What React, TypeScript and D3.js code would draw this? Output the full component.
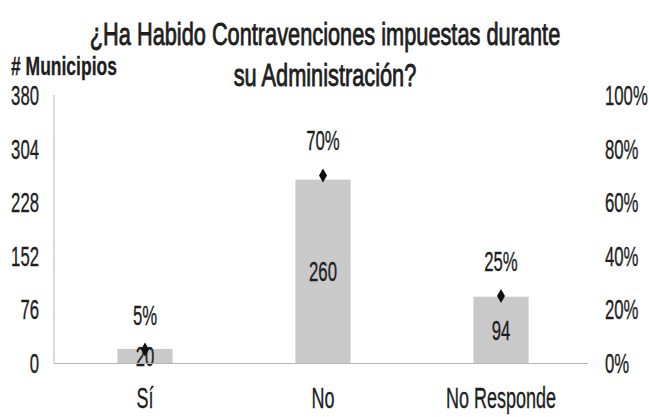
import React from "react";
import * as d3 from "d3";

const categories = ["Sí", "No", "No Responde"];
const counts = [20, 260, 94];
const percents = [5, 70, 25];
const leftTicks = [0, 76, 152, 228, 304, 380];
const rightTicks = [0, 20, 40, 60, 80, 100];
const titleLines = ["¿Ha Habido Contravenciones impuestas durante", "su Administración?"];
const yAxisTitle = "# Municipios";

const W = 649;
const H = 417;
const FONT = "'Liberation Sans', Arial, sans-serif";
const TXT = "#1e1e1e";

function T(props: {
  x: number;
  y: number;
  s: number;
  sx: number;
  anchor?: string;
  bold?: boolean;
  sw?: number;
  children: React.ReactNode;
}) {
  return (
    <text
      transform={`translate(${props.x},${props.y}) scale(${props.sx},1)`}
      textAnchor={props.anchor || "start"}
      fontSize={props.s}
      fontFamily={FONT}
      fontWeight={props.bold ? "bold" : "normal"}
      fill={TXT}
      stroke={TXT}
      strokeWidth={props.sw ?? 0.35}
    >
      {props.children}
    </text>
  );
}

export default function App() {
  const y = d3.scaleLinear().domain([0, 380]).range([363, 95]);
  const yp = d3.scaleLinear().domain([0, 100]).range([363, 95]);
  const x = d3
    .scaleBand<string>()
    .domain(categories)
    .range([56, 590])
    .paddingInner(0.69)
    .paddingOuter(0.345);
  const bw = x.bandwidth();
  const diamond = (cx: number, cy: number) =>
    `M${cx},${cy - 7} L${cx + 4},${cy} L${cx},${cy + 7} L${cx - 4},${cy} Z`;

  return (
    <svg width={W} height={H} style={{ position: "absolute", left: 0, top: 0, background: "#fff" }}>
      <rect width={W} height={H} fill="#fff" />
      <T x={325} y={45} s={32} sx={0.68} anchor="middle" sw={0.9}>
        {titleLines[0]}
      </T>
      <T x={325} y={86} s={32} sx={0.68} anchor="middle" sw={0.9}>
        {titleLines[1]}
      </T>
      <T x={11} y={75} s={25} sx={0.7} bold sw={0.3}>
        {yAxisTitle}
      </T>

      {leftTicks.map((t) => (
        <T key={"l" + t} x={39} y={y(t) + 10} s={27} sx={0.62} anchor="end">
          {String(t)}
        </T>
      ))}
      {rightTicks.map((t) => (
        <T key={"r" + t} x={605} y={yp(t) + 10} s={27} sx={0.62}>
          {t + "%"}
        </T>
      ))}

      {categories.map((c, i) => {
        const bx = x(c)!;
        const cx = bx + bw / 2;
        const top = y(counts[i]);
        const py = yp(percents[i]);
        return (
          <g key={c}>
            <rect x={bx} y={top} width={bw} height={y(0) - top} fill="#cacaca" />
            <T x={cx} y={(top + y(0)) / 2 + 10} s={27} sx={0.62} anchor="middle">
              {String(counts[i])}
            </T>
            <path d={diamond(cx, py)} fill="#111" />
            <T x={cx} y={py - 25} s={27} sx={0.62} anchor="middle">
              {percents[i] + "%"}
            </T>
            <T x={cx} y={408} s={30} sx={0.6} anchor="middle">
              {c}
            </T>
          </g>
        );
      })}

      <line x1={54} x2={54} y1={95} y2={363} stroke="#b5b5b5" strokeWidth={1} />
      <line x1={54} x2={588} y1={363.5} y2={363.5} stroke="#b5b5b5" strokeWidth={1} />
    </svg>
  );
}
